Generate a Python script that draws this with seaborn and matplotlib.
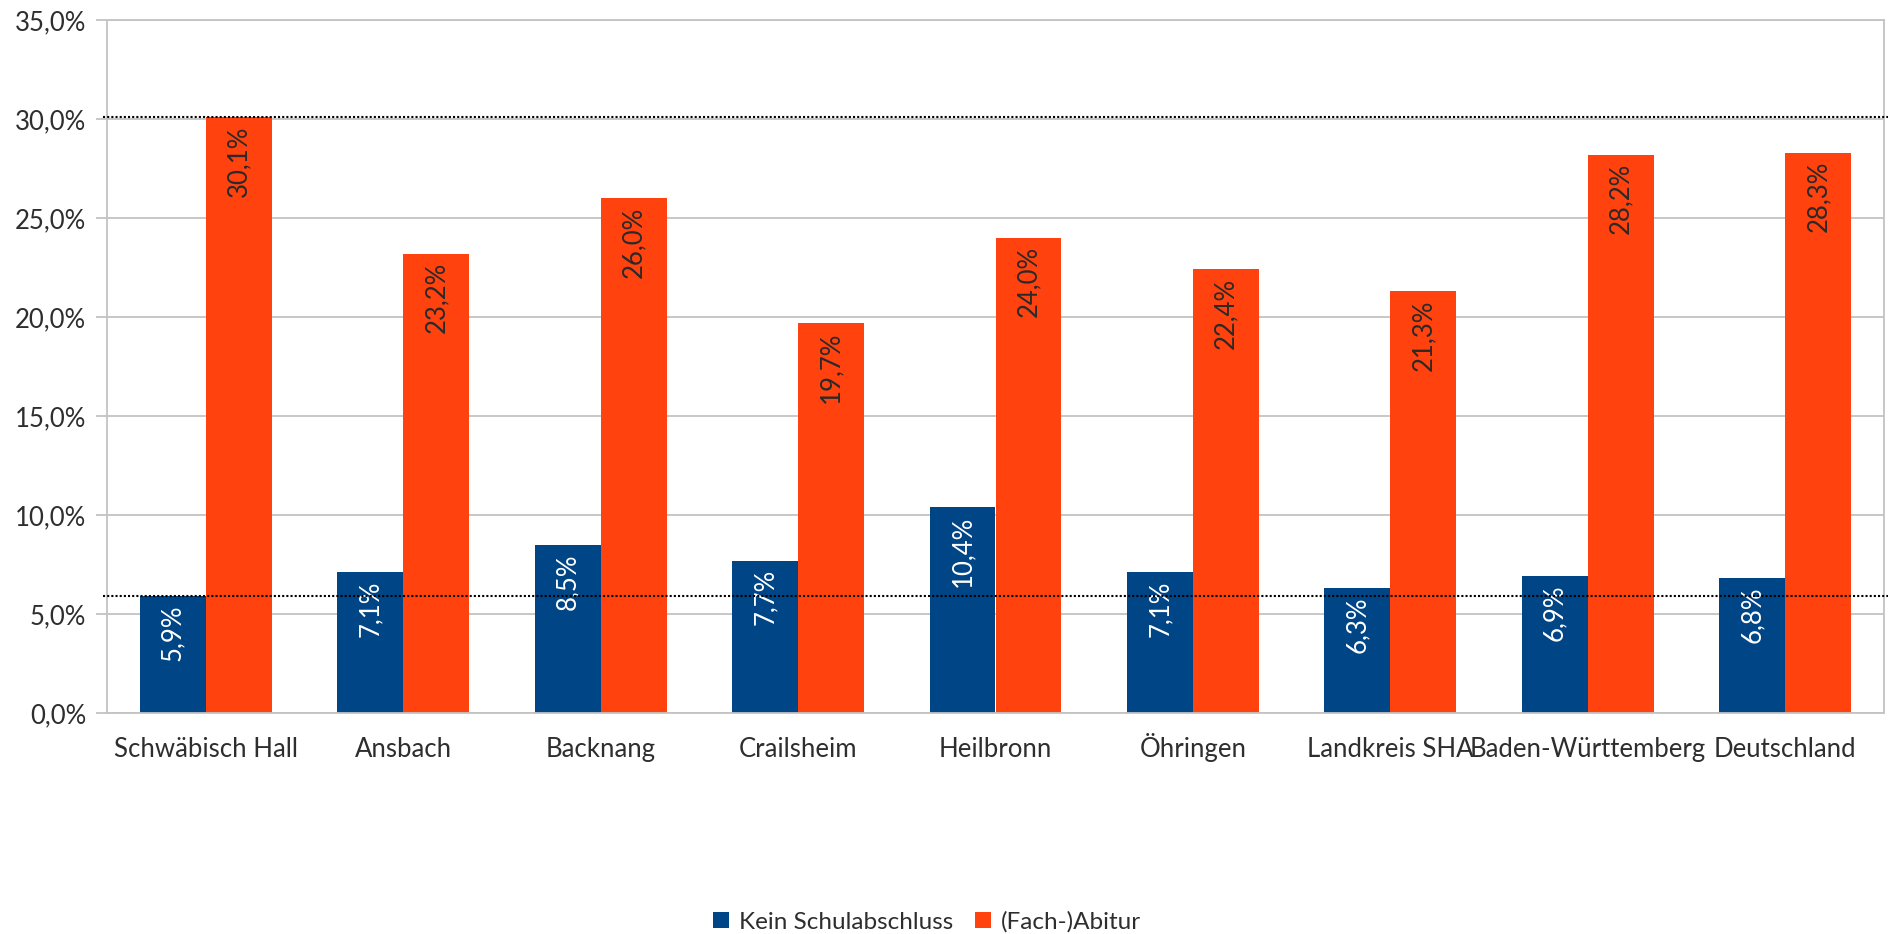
import pandas as pd
import matplotlib
matplotlib.use("Agg")
import matplotlib.pyplot as plt
import seaborn as sns

# Data
orte = ["Schwäbisch Hall", "Ansbach", "Backnang", "Crailsheim", "Heilbronn",
        "Öhringen", "Landkreis SHA", "Baden-Württemberg", "Deutschland"]
kein_abschluss = [5.9, 7.1, 8.5, 7.7, 10.4, 7.1, 6.3, 6.9, 6.8]
abitur = [30.1, 23.2, 26.0, 19.7, 24.0, 22.4, 21.3, 28.2, 28.3]
serien = ["Kein Schulabschluss", "(Fach-)Abitur"]
farben = ["#004586", "#ff420e"]
label_farben = ["white", "#2a2a2a"]

df = pd.DataFrame({
    "Ort": orte * 2,
    "Serie": [serien[0]] * len(orte) + [serien[1]] * len(orte),
    "Wert": kein_abschluss + abitur,
})

sns.set_style("white")
plt.rcParams["font.family"] = ["Lato", "DejaVu Sans"]
text_col = "#2e2e2e"
grid_col = "#c3c3c3"
fs = 18.5

fig, ax = plt.subplots(figsize=(18.88, 9.34), dpi=100)
fig.subplots_adjust(left=107 / 1888, right=1884 / 1888, top=1 - 20 / 934, bottom=1 - 713 / 934)

sns.barplot(data=df, x="Ort", y="Wert", hue="Serie", order=orte, hue_order=serien,
            palette=farben, width=0.668, gap=0, saturation=1, ax=ax, linewidth=0)

ax.set_ylim(0, 35)
ax.set_xlim(-0.5, len(orte) - 0.5)
ax.set_yticks(range(0, 36, 5))
ax.set_yticklabels([f"{v},0%" for v in range(0, 36, 5)])
ax.yaxis.grid(True, color=grid_col, linewidth=1.3)
ax.set_axisbelow(True)
ax.set_xlabel("")
ax.set_ylabel("")

# category separators as minor ticks
ax.set_xticks([i - 0.5 for i in range(len(orte) + 1)], minor=True)
ax.tick_params(axis="x", which="major", length=0, pad=31.5, labelsize=fs, labelcolor=text_col)
ax.tick_params(axis="x", which="minor", length=8, width=1.3, color=grid_col)
ax.tick_params(axis="y", length=8, width=1.3, color=grid_col, pad=7, labelsize=fs,
               labelcolor=text_col, left=True)
for t in ax.get_xticklabels():
    t.set_va("baseline")

for side in ["left", "right", "bottom", "top"]:
    ax.spines[side].set_visible(True)
    ax.spines[side].set_color(grid_col)
    ax.spines[side].set_linewidth(1.3)

# value labels inside bars, near the top
for cont, werte, col in zip(ax.containers, [kein_abschluss, abitur], label_farben):
    for patch, v in zip(cont.patches, werte):
        ax.annotate(f"{v:.1f}%".replace(".", ","),
                    xy=(patch.get_x() + patch.get_width() / 2, patch.get_height()),
                    xytext=(0, -6), textcoords="offset points",
                    rotation=90, ha="center", va="top", fontsize=fs, color=col)

# reference lines (Schwäbisch Hall values)
for ref in [kein_abschluss[0], abitur[0]]:
    ax.axhline(ref, xmin=-0.002, xmax=1.003, color="black", linestyle=(0, (1, 1)),
               linewidth=1.5, clip_on=False, zorder=5)

handles, labels = ax.get_legend_handles_labels()
ax.get_legend().remove()
fig.legend(handles, labels, loc="center", bbox_to_anchor=(927 / 1888, 1 - 922 / 934),
           ncol=2, frameon=False, fontsize=17.5, handlelength=0.65, handleheight=0.65,
           handletextpad=0.4, columnspacing=0.9, labelcolor=text_col)

fig.savefig("out.png", dpi=100, facecolor="white")
